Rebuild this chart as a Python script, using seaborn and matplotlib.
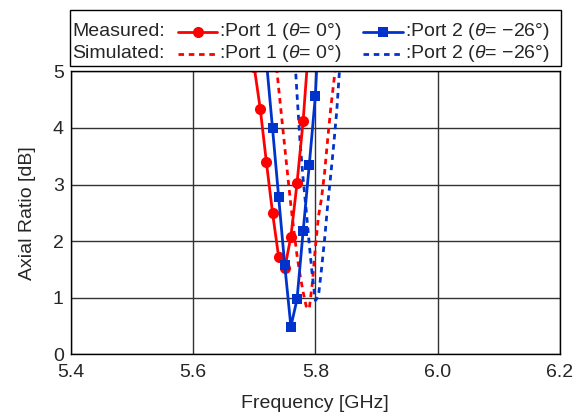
import matplotlib
matplotlib.use("Agg")
import matplotlib.pyplot as plt
from matplotlib.lines import Line2D
from matplotlib.patches import Rectangle
import seaborn as sns

# measured axial ratio (markers)
meas_p1_freq = [5.70, 5.71, 5.72, 5.73, 5.74, 5.75, 5.76, 5.77, 5.78, 5.79]
meas_p1_ar = [5.08, 4.33, 3.39, 2.50, 1.72, 1.52, 2.08, 3.02, 4.12, 5.59]
meas_p2_freq = [5.72, 5.73, 5.74, 5.75, 5.76, 5.77, 5.78, 5.79, 5.80, 5.81]
meas_p2_ar = [5.18, 3.99, 2.78, 1.57, 0.49, 0.97, 2.17, 3.34, 4.56, 6.76]

# simulated axial ratio (dashed)
sim_p1_freq = [5.735, 5.74, 5.745, 5.75, 5.755, 5.76, 5.765, 5.77, 5.775, 5.78, 5.785,
               5.79, 5.795, 5.80, 5.805, 5.81, 5.815, 5.82, 5.825, 5.83, 5.835]
sim_p1_ar = [5.25, 4.70, 4.18, 3.66, 3.14, 2.63, 2.18, 1.75, 1.40, 1.10, 0.85,
             0.80, 1.25, 1.88, 2.43, 2.75, 3.20, 3.78, 4.33, 4.80, 5.25]
sim_p2_freq = [5.765, 5.77, 5.775, 5.78, 5.785, 5.79, 5.795, 5.80, 5.805, 5.81, 5.815,
               5.82, 5.825, 5.83, 5.835, 5.84]
sim_p2_ar = [5.50, 4.60, 3.75, 3.10, 2.55, 1.95, 1.40, 0.95, 1.02, 1.50, 2.02,
             2.62, 3.15, 3.70, 4.30, 5.10]

x_ticks = [5.4, 5.6, 5.8, 6.0, 6.2]
x_tick_labels = ["5.4", "5.6", "5.8", "6.0", "6.2"]
y_ticks = [0, 1, 2, 3, 4, 5]

RED = "#ff0000"
BLUE = "#0033cc"

sns.set_style("white")
plt.rcParams["font.family"] = ["Liberation Sans", "DejaVu Sans"]
plt.rcParams["mathtext.fontset"] = "custom"
plt.rcParams["mathtext.rm"] = "Liberation Sans"
plt.rcParams["mathtext.it"] = "Liberation Sans:italic"
FS = 14

fig = plt.figure(figsize=(5.82, 4.17), dpi=100)
ax = fig.add_axes([70.7 / 582, 1 - 354.3 / 417, (560 - 70.7) / 582, (354.3 - 71.3) / 417])

lw = 2.0
DASH = (2.0, 1.7)
sns.lineplot(x=sim_p1_freq, y=sim_p1_ar, ax=ax, color=RED, lw=lw, sort=False,
             estimator=None)
sns.lineplot(x=sim_p2_freq, y=sim_p2_ar, ax=ax, color=BLUE, lw=lw, sort=False,
             estimator=None)
for l in ax.lines:
    l.set_dashes(DASH)
sns.lineplot(x=meas_p1_freq, y=meas_p1_ar, ax=ax, color=RED, lw=lw, marker="o",
             markersize=8, markeredgewidth=0, sort=False, estimator=None)
sns.lineplot(x=meas_p2_freq, y=meas_p2_ar, ax=ax, color=BLUE, lw=lw, marker="s",
             markersize=7.5, markeredgewidth=0, sort=False, estimator=None)

ax.set_xlim(5.4, 6.2)
ax.set_ylim(0, 5)
ax.set_xticks(x_ticks)
ax.set_xticklabels(x_tick_labels)
ax.set_yticks(y_ticks)
ax.grid(True, color="0.2", lw=1.0)
ax.set_axisbelow(True)
ax.tick_params(axis="x", length=0, labelsize=FS, pad=7)
ax.tick_params(axis="y", length=0, labelsize=FS, pad=5)
for s in ax.spines.values():
    s.set_color("black")
    s.set_linewidth(1.0)
ax.set_xlabel("Frequency [GHz]", fontsize=FS, labelpad=10)
ax.set_ylabel("Axial Ratio [dB]", fontsize=FS, labelpad=12)

# legend box drawn by hand above the axes
W, H = 582.0, 417.0
fig.add_artist(Rectangle((69.5 / W, 1 - 66 / H), (561 - 69.5) / W, (66 - 10) / H,
                         transform=fig.transFigure, fill=False, ec="black", lw=1.0))


def put_text(x_px, y_px, s):
    fig.text(x_px / W, 1 - y_px / H, s, fontsize=FS, ha="left", va="center")


def put_handle(x0, x1, y_px, color, marker=None, dashed=False):
    ln = Line2D([x0 / W, x1 / W], [1 - y_px / H] * 2, transform=fig.transFigure,
                color=color, lw=lw)
    if dashed:
        ln.set_dashes(DASH)
    fig.add_artist(ln)
    if marker:
        fig.add_artist(Line2D([(x0 + x1) / 2 / W], [1 - y_px / H], transform=fig.transFigure,
                              color=color, marker=marker, markersize=8 if marker == "o" else 7.5,
                              markeredgewidth=0, lw=0))


p1 = r":Port 1 ($\theta$= 0°)"
p2 = r":Port 2 ($\theta$= −26°)"
for y_px, head, dashed in [(32, "Measured:", False), (54, "Simulated:", True)]:
    put_text(72.5, y_px, head)
    put_handle(178, 217, y_px, RED, None if dashed else "o", dashed)
    put_text(219, y_px, p1)
    put_handle(363, 403, y_px, BLUE, None if dashed else "s", dashed)
    put_text(405, y_px, p2)

fig.savefig("out.png", dpi=100)
